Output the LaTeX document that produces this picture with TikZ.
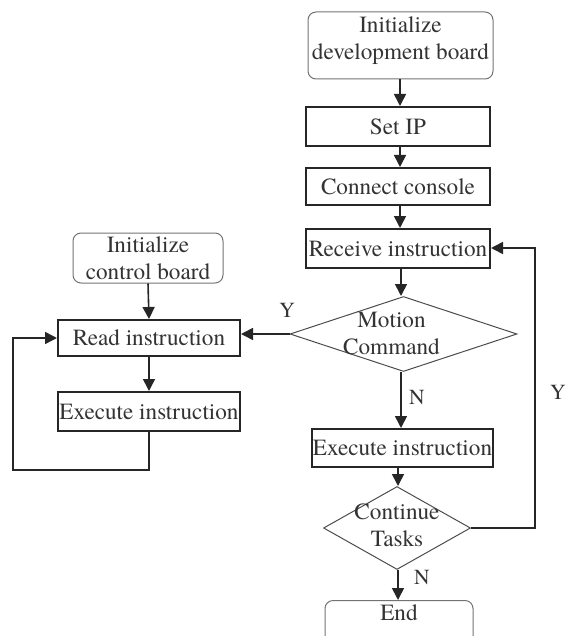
\documentclass[tikz,border=0pt]{standalone}
\usepackage{fontspec}
\setmainfont{texgyretermes-regular.otf}
\usetikzlibrary{arrows.meta,shapes.geometric}
\begin{document}
\begin{tikzpicture}[x=1pt,y=-1pt,
  font=\fontsize{23.2}{27}\selectfont,
  txt/.style={text=black!80},
  sqbox/.style={draw=black!85,line width=2pt,rectangle,inner sep=0pt,txt},
  rbox/.style={draw=black!55,line width=1pt,rectangle,rounded corners=8pt,inner sep=0pt,align=center,txt},
  dbox/.style={draw=black!70,line width=1pt,diamond,inner sep=0pt},
  arr/.style={draw=black!85,line width=1.6pt,-{Triangle[length=12pt,width=12pt]}},
  lbl/.style={text=black!80,font=\fontsize{21.5}{24}\selectfont},
  every label/.style={align=center,text=black!80}]
\useasboundingbox (0,0) rectangle (568,636);
\clip (0,0) rectangle (568,636);
% right column
\node[rbox,minimum width=185pt,minimum height=67pt,text depth=15pt] (idb) at (400.5,45.5) {Initialize\\development board};
\node[sqbox,minimum width=184pt,minimum height=39pt] (sip) at (398,126.5) {Set IP};
\node[sqbox,minimum width=184pt,minimum height=37pt] (cc) at (398,186.5) {Connect console};
\node[sqbox,minimum width=184pt,minimum height=39pt] (ri) at (398,248.5) {Receive instruction};
\node[dbox,minimum width=227pt,minimum height=75pt,label={[xshift=-12pt,yshift=1pt]center:Motion\\Command}] (mc) at (403.5,334) {};
\node[sqbox,minimum width=181pt,minimum height=38pt] (ei) at (402.5,448) {Execute instruction};
\node[dbox,minimum width=147pt,minimum height=83pt,label={[yshift=3pt]center:Continue\\Tasks}] (ct) at (397,528) {};
\node[rbox,anchor=north,minimum width=148pt,text height=20pt,text depth=45pt] (en) at (399,600) {End};
% left column
\node[rbox,minimum width=150pt,minimum height=50pt] (icb) at (148,258) {\raisebox{-3pt}{Initialize}\\\raisebox{-3pt}{control board}};
\node[sqbox,minimum width=182pt,minimum height=36pt] (rd) at (149,338) {Read instruction};
\node[sqbox,minimum width=182pt,minimum height=39pt] (el) at (149,411.5) {Execute instruction};
% loop corner coordinates
\coordinate (lb) at (13,470);
\coordinate (rr) at (535,248);
% arrows right column
\draw[arr] (idb.south -| 400,0) -- (sip.north -| 400,0);
\draw[arr] (sip.south -| 400,0) -- (cc.north -| 400,0);
\draw[arr] (cc.south -| 400,0) -- (ri.north -| 400,0);
\draw[arr] (ri.south -| 401,0) -- (mc.north -| 401,0);
\draw[arr] (mc.south -| 401,0) -- node[lbl,right,pos=0.45,xshift=4pt]{N} (ei.north -| 401,0);
\draw[arr] (ei.south -| 398,0) -- (ct.north -| 398,0);
\draw[arr] (ct.south -| 398,0) -- node[lbl,right,pos=0.25,xshift=12pt]{N} (en.north -| 398,0);
\draw[arr] (ct.east) -| (rr) -- (ri.east |- rr);
\node[lbl] (ylr) at (558,392) {Y};
% arrow to left column
\draw[arr] (mc.west) -- node[lbl,above,yshift=12pt,pos=0.05]{Y} (mc.west -| rd.east);
% left column arrows
\draw[arr] (icb.south) -- (rd.north);
\draw[arr] (rd.south) -- (el.north);
\draw[arr] (el.south) |- (lb) |- (rd.west);
\end{tikzpicture}
\end{document}
